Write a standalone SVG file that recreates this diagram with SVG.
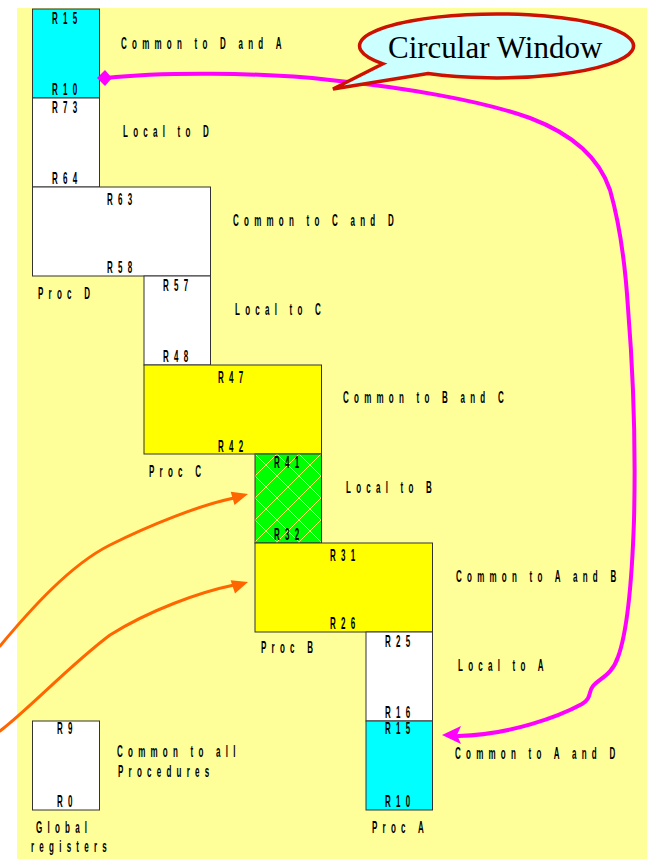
<svg xmlns="http://www.w3.org/2000/svg" width="647" height="859" viewBox="0 0 647 859">
  <style>
    .box { stroke: #333; stroke-width: 1; }
    .white { fill: #ffffff; }
    .cyan { fill: #00ffff; }
    .yellow { fill: #ffff00; }
    .t { font-family: "Liberation Sans", Arial, sans-serif; font-weight: bold; font-size: 16px; letter-spacing: 10.5px; fill: #000; }
    .pink { fill: none; stroke: #ff00ff; stroke-width: 4; stroke-linecap: round; stroke-linejoin: round; }
    .orange { fill: none; stroke: #ff6600; stroke-width: 3; stroke-linecap: round; }
  </style>
  <defs>
    <pattern id="hatch" patternUnits="userSpaceOnUse" x="255" y="454" width="22" height="22">
      <rect width="22" height="22" fill="#00ff00"/>
      <path d="M0,0 L22,22 M22,0 L0,22" stroke="#ffff66" stroke-width="1"/>
    </pattern>
  </defs>

  <!-- page background -->
  <rect width="647" height="859" fill="#ffffff"/>
  <rect x="17" y="8" width="630" height="851" fill="#ffff99"/>

  <!-- Proc D window -->
  <g id="d-common-a">
    <rect class="box cyan" x="32.5" y="9" width="67" height="89"/>
    <text class="t" transform="matrix(0.5 0 0 1 52 24)">R15</text>
    <text class="t" transform="matrix(0.5 0 0 1 52 95)">R10</text>
    <text class="t" transform="matrix(0.5 0 0 1 121 49)">Common to D and A</text>
  </g>
  <g id="d-local">
    <rect class="box white" x="32.5" y="98" width="67" height="89"/>
    <text class="t" transform="matrix(0.5 0 0 1 52 113)">R73</text>
    <text class="t" transform="matrix(0.5 0 0 1 52 184)">R64</text>
    <text class="t" transform="matrix(0.5 0 0 1 123 137)">Local to D</text>
  </g>
  <g id="cd-common">
    <rect class="box white" x="32.5" y="187" width="178" height="89"/>
    <text class="t" transform="matrix(0.5 0 0 1 107 205)">R63</text>
    <text class="t" transform="matrix(0.5 0 0 1 107 273)">R58</text>
    <text class="t" transform="matrix(0.5 0 0 1 233 226)">Common to C and D</text>
    <text class="t" transform="matrix(0.5 0 0 1 38 299)">Proc D</text>
  </g>

  <!-- Proc C window -->
  <g id="c-local">
    <rect class="box white" x="144" y="276" width="66.5" height="89"/>
    <text class="t" transform="matrix(0.5 0 0 1 163 291)">R57</text>
    <text class="t" transform="matrix(0.5 0 0 1 163 362)">R48</text>
    <text class="t" transform="matrix(0.5 0 0 1 235 315)">Local to C</text>
  </g>
  <g id="bc-common">
    <rect class="box yellow" x="144" y="365" width="177.5" height="89"/>
    <text class="t" transform="matrix(0.5 0 0 1 218 383)">R47</text>
    <text class="t" transform="matrix(0.5 0 0 1 218 452)">R42</text>
    <text class="t" transform="matrix(0.5 0 0 1 343 403)">Common to B and C</text>
    <text class="t" transform="matrix(0.5 0 0 1 149 477)">Proc C</text>
  </g>

  <!-- Proc B window -->
  <g id="b-local">
    <rect class="box" fill="url(#hatch)" x="255" y="454" width="66.5" height="89"/>
    <text class="t" transform="matrix(0.5 0 0 1 274 468)">R41</text>
    <text class="t" transform="matrix(0.5 0 0 1 274 540)">R32</text>
    <text class="t" transform="matrix(0.5 0 0 1 346 493)">Local to B</text>
  </g>
  <g id="ab-common">
    <rect class="box yellow" x="255" y="543" width="177.5" height="89"/>
    <text class="t" transform="matrix(0.5 0 0 1 330 561)">R31</text>
    <text class="t" transform="matrix(0.5 0 0 1 330 629)">R26</text>
    <text class="t" transform="matrix(0.5 0 0 1 456 582)">Common to A and B</text>
    <text class="t" transform="matrix(0.5 0 0 1 261 653)">Proc B</text>
  </g>

  <!-- Proc A window -->
  <g id="a-local">
    <rect class="box white" x="366" y="632" width="66.5" height="89"/>
    <text class="t" transform="matrix(0.5 0 0 1 385 647)">R25</text>
    <text class="t" transform="matrix(0.5 0 0 1 385 718)">R16</text>
    <text class="t" transform="matrix(0.5 0 0 1 458 671)">Local to A</text>
  </g>
  <g id="a-common-d">
    <rect class="box cyan" x="366" y="721" width="66.5" height="89"/>
    <text class="t" transform="matrix(0.5 0 0 1 385 734)">R15</text>
    <text class="t" transform="matrix(0.5 0 0 1 385 807)">R10</text>
    <text class="t" transform="matrix(0.5 0 0 1 455 759)">Common to A and D</text>
    <text class="t" transform="matrix(0.5 0 0 1 372 833)">Proc A</text>
  </g>

  <!-- global registers -->
  <g id="globals">
    <rect class="box white" x="32.5" y="721" width="67" height="89"/>
    <text class="t" transform="matrix(0.5 0 0 1 57 734)">R9</text>
    <text class="t" transform="matrix(0.5 0 0 1 57 807)">R0</text>
    <text class="t" transform="matrix(0.5 0 0 1 117 757)">Common to all</text>
    <text class="t" transform="matrix(0.5 0 0 1 118 777)">Procedures</text>
    <text class="t" transform="matrix(0.5 0 0 1 36 833)">Global</text>
    <text class="t" transform="matrix(0.5 0 0 1 31 852)">registers</text>
  </g>

  <!-- connectors -->
  <g id="connectors">
    <!-- wrap-around link between the two shared halves -->
    <path class="pink" d="M106,78 C160,72 260,72 330,80 C400,87 480,100 530,118 C575,135 600,160 610,190 C620,225 625,260 628,308 C633,370 636,440 634,520 C632,580 628,630 618,657 C612,675 600,678 593,686 C588,692 592,698 582,704 C560,716 510,735 458,736"/>
    <polygon points="97,78 105,70 112,78 105,86" fill="#ff00ff"/>
    <polygon points="442,735 461,726 457,735 461,744" fill="#ff00ff"/>

    <!-- incoming orange arrows -->
    <path class="orange" d="M0,646 C30,610 70,565 110,545 C150,525 200,505 234,498"/>
    <polygon points="248,494 230.7,491.7 234.5,505.1" fill="#ff6600"/>
    <path class="orange" d="M0,731 C30,708 70,665 110,635 C150,610 200,592 234,585"/>
    <polygon points="248,582 230.6,580.2 235,593.6" fill="#ff6600"/>
  </g>

  <!-- callout -->
  <g id="callout">
    <path d="M383,63.8 L333,89 L428,73.6 A137,32 0 1 0 383,63.8 Z" fill="#ccffff" stroke="#cc1100" stroke-width="3.5" stroke-linejoin="miter"/>
    <text x="388" y="58" font-family="Liberation Serif, Times New Roman, serif" font-size="31" fill="#000">Circular Window</text>
  </g>
</svg>
